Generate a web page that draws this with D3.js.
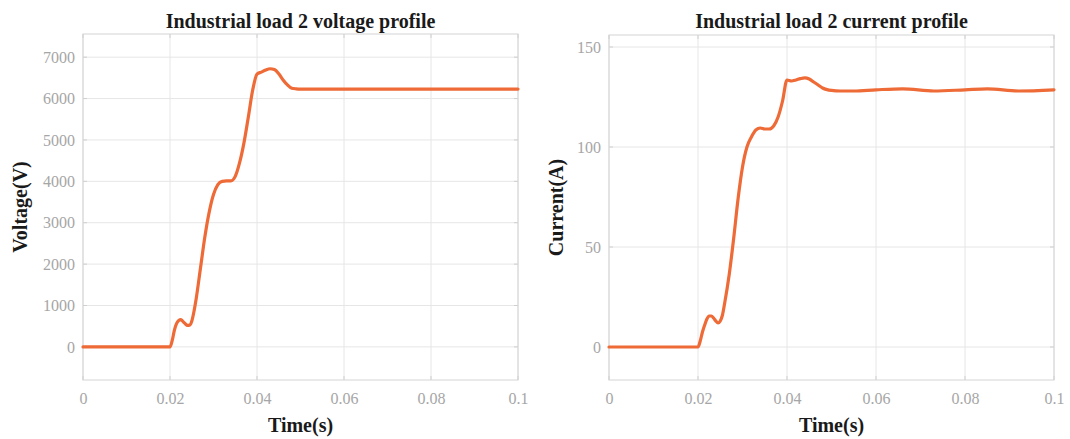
<!DOCTYPE html>
<html>
<head>
<meta charset="utf-8">
<script src="https://cdn.jsdelivr.net/npm/d3@7"></script>
<style>
  html, body { margin: 0; padding: 0; background: #fff; }
  svg { display: block; }
  .title { font-family: "Liberation Serif", "Times New Roman", serif; font-weight: bold; font-size: 20px; fill: #1a1a1a; }
  .axlabel { font-family: "Liberation Serif", "Times New Roman", serif; font-weight: bold; font-size: 20px; fill: #1a1a1a; }
</style>
</head>
<body>
<svg id="chart" width="1070" height="439"></svg>
<script>
// Simulation time (s) and sampled voltage (V) for industrial load 2
const voltageTime = [0, 0.02, 0.0205, 0.021, 0.0215, 0.022, 0.0225, 0.023, 0.0235, 0.024, 0.0245, 0.025, 0.0255,
  0.026, 0.027, 0.028, 0.029, 0.030, 0.031, 0.032, 0.033, 0.034, 0.035, 0.036, 0.037, 0.038, 0.039, 0.040,
  0.041, 0.042, 0.043, 0.044, 0.045, 0.046, 0.047, 0.048, 0.049, 0.050, 0.060, 0.080, 0.1];
const voltageValues = [0, 0, 150, 400, 560, 640, 660, 610, 560, 520, 525, 620, 850,
  1150, 1900, 2650, 3250, 3680, 3920, 4000, 4010, 4010, 4120, 4450, 4930, 5550, 6200, 6590,
  6640, 6690, 6720, 6700, 6600, 6450, 6330, 6250, 6235, 6230, 6230, 6230, 6230];

// Simulation time (s) and sampled current (A) for industrial load 2
const currentTime = [0, 0.02, 0.0205, 0.021, 0.0215, 0.022, 0.0225, 0.023, 0.0235, 0.024, 0.0245, 0.025, 0.0255,
  0.026, 0.027, 0.028, 0.029, 0.030, 0.031, 0.032, 0.033, 0.034, 0.035, 0.036, 0.037, 0.038, 0.039, 0.040,
  0.041, 0.042, 0.043, 0.044, 0.045, 0.046, 0.047, 0.048, 0.049, 0.050, 0.052, 0.055, 0.060, 0.066, 0.073,
  0.080, 0.085, 0.092, 0.1];
const currentValues = [0, 0, 3, 7.5, 11, 14, 15.5, 15.5, 14.5, 13, 12, 13, 16,
  22, 36, 54, 74, 90, 100, 105, 108.5, 109.5, 109, 109, 110.5, 115, 123, 133.5,
  133, 133.5, 134.2, 134.6, 134, 132.5, 131, 129.5, 128.7, 128.3, 128, 128, 128.6, 129.1, 128,
  128.6, 129.1, 128, 128.6];

// Axis ticks
const timeTicks = [0, 0.02, 0.04, 0.06, 0.08, 0.1];
const timeTickLabels = ["0", "0.02", "0.04", "0.06", "0.08", "0.1"];
const voltageTicks = [0, 1000, 2000, 3000, 4000, 5000, 6000, 7000];
const currentTicks = [0, 50, 100, 150];

const svg = d3.select("#chart");
const lineColor = "#ee6a36";
const serif = "'Liberation Serif', 'Times New Roman', serif";

function styleTicks(sel) {
  sel.attr("font-family", serif).attr("font-size", 16);
  sel.selectAll(".tick text")
    .attr("fill", "#a6a6a6")
    .style("font-family", serif)
    .style("font-size", "16px");
}

function drawPanel(cfg) {
  const x = d3.scaleLinear().domain([0, 0.1]).range([cfg.left, cfg.right]);
  const y = d3.scaleLinear().domain(cfg.yDomain).range([cfg.bottom, cfg.top]);
  const g = svg.append("g");

  // grid
  g.append("g").selectAll("line").data(timeTicks).join("line")
    .attr("x1", d => x(d)).attr("x2", d => x(d))
    .attr("y1", cfg.top).attr("y2", cfg.bottom)
    .attr("stroke", "#e6e6e6").attr("stroke-width", 1);
  g.append("g").selectAll("line").data(cfg.yTicks).join("line")
    .attr("x1", cfg.left).attr("x2", cfg.right)
    .attr("y1", d => y(d)).attr("y2", d => y(d))
    .attr("stroke", "#e6e6e6").attr("stroke-width", 1);

  // axes
  const xAxis = d3.axisBottom(x).tickValues(timeTicks)
    .tickFormat((d, i) => timeTickLabels[i]).tickSize(0).tickPadding(13);
  g.append("g").attr("transform", `translate(0,${cfg.bottom})`).call(xAxis)
    .call(s => s.select(".domain").remove()).call(styleTicks);
  const yAxis = d3.axisLeft(y).tickValues(cfg.yTicks).tickSize(0).tickPadding(8)
    .tickFormat(d3.format("d"));
  g.append("g").attr("transform", `translate(${cfg.left},0)`).call(yAxis)
    .call(s => s.select(".domain").remove()).call(styleTicks);

  // small inner tick marks on all four sides
  const tk = 4;
  g.append("g").selectAll("line").data(timeTicks).join("line")
    .attr("x1", d => x(d)).attr("x2", d => x(d))
    .attr("y1", cfg.bottom).attr("y2", cfg.bottom - tk).attr("stroke", "#cfcfcf");
  g.append("g").selectAll("line").data(timeTicks).join("line")
    .attr("x1", d => x(d)).attr("x2", d => x(d))
    .attr("y1", cfg.top).attr("y2", cfg.top + tk).attr("stroke", "#cfcfcf");
  g.append("g").selectAll("line").data(cfg.yTicks).join("line")
    .attr("x1", cfg.left).attr("x2", cfg.left + tk)
    .attr("y1", d => y(d)).attr("y2", d => y(d)).attr("stroke", "#cfcfcf");
  g.append("g").selectAll("line").data(cfg.yTicks).join("line")
    .attr("x1", cfg.right).attr("x2", cfg.right - tk)
    .attr("y1", d => y(d)).attr("y2", d => y(d)).attr("stroke", "#cfcfcf");

  // box
  g.append("rect").attr("x", cfg.left).attr("y", cfg.top)
    .attr("width", cfg.right - cfg.left).attr("height", cfg.bottom - cfg.top)
    .attr("fill", "none").attr("stroke", "#d4d4d4").attr("stroke-width", 1);

  // data line
  const pts = cfg.t.map((t, i) => [t, cfg.v[i]]);
  const line = d3.line().x(d => x(d[0])).y(d => y(d[1])).curve(d3.curveMonotoneX);
  g.append("path").datum(pts).attr("d", line)
    .attr("fill", "none").attr("stroke", lineColor).attr("stroke-width", 3.2)
    .attr("stroke-linejoin", "round").attr("stroke-linecap", "round");

  // titles
  const cx = (cfg.left + cfg.right) / 2;
  g.append("text").attr("class", "title").attr("x", cx).attr("y", 28)
    .attr("text-anchor", "middle").text(cfg.title);
  g.append("text").attr("class", "axlabel").attr("x", cx).attr("y", 432)
    .attr("text-anchor", "middle").text("Time(s)");
  const my = (cfg.top + cfg.bottom) / 2;
  g.append("text").attr("class", "axlabel")
    .attr("transform", `translate(${cfg.ylabelX},${my}) rotate(-90)`)
    .attr("text-anchor", "middle").text(cfg.ylabel);
}

drawPanel({
  left: 83, right: 518, top: 34, bottom: 380,
  yDomain: [-800, 7560], yTicks: voltageTicks,
  t: voltageTime, v: voltageValues,
  title: "Industrial load 2 voltage profile", ylabel: "Voltage(V)", ylabelX: 27
});

drawPanel({
  left: 609, right: 1054, top: 35, bottom: 380,
  yDomain: [-16.5, 156], yTicks: currentTicks,
  t: currentTime, v: currentValues,
  title: "Industrial load 2 current profile", ylabel: "Current(A)", ylabelX: 563
});
</script>
</body>
</html>
